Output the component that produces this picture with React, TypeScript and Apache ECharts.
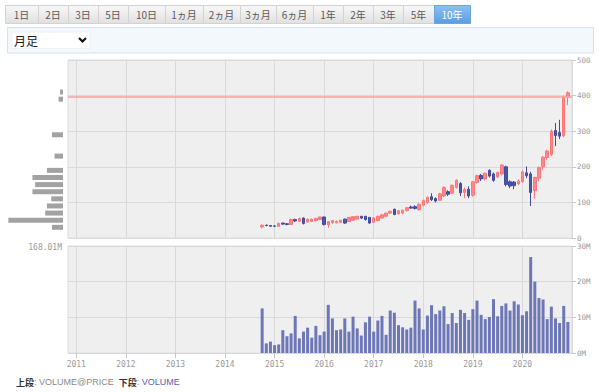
import React, { useEffect, useRef } from 'react';
import * as echarts from 'echarts';

// ---------- data ----------
const rangeButtons = ['1日', '2日', '3日', '5日', '10日', '1ヵ月', '2ヵ月', '3ヵ月', '6ヵ月', '1年', '2年', '3年', '5年', '10年'];
const activeButton = '10年';
const periodLabel = '月足';

const axisStart = [2010, 11];
const axisEnd = [2021, 1];
const dataStart = [2014, 10];
const lastLabelYear = 2020;

const openPrices = [
  31, 36, 35, 34, 33, 42, 40, 38, 52, 47, 56, 45, 47, 49, 52,
  59, 37, 43, 43, 44, 53, 46, 50, 53, 61, 61, 58,
  44, 49, 56, 61, 70, 81, 68, 70, 77, 87, 88, 80,
  92, 100, 116, 111, 106, 118, 130, 126, 142, 153, 128, 137,
  120, 156, 176, 166, 190, 180, 172, 180, 200, 158, 157, 152,
  158, 183, 180, 133, 168, 200, 226, 235, 302, 296, 287, 396,
];
const closePrices = [
  36, 35, 33, 33, 41, 39, 38, 52, 48, 55, 41, 53, 53, 55, 59,
  38, 46, 49, 47, 50, 42, 58, 60, 61, 56, 52, 42,
  56, 61, 65, 70, 75, 66, 77, 78, 85, 84, 83, 95,
  105, 114, 108, 104, 124, 142, 123, 148, 162, 127, 136, 118,
  158, 175, 166, 182, 174, 162, 184, 205, 150, 146, 147, 160,
  186, 175, 128, 170, 198, 227, 244, 300, 288, 286, 397, 408,
];
const lowPrices = [
  27, 33, 31, 31, 32, 37, 36, 37, 45, 45, 38, 43, 45, 47, 50,
  35, 29, 40, 41, 43, 40, 45, 49, 52, 53, 49, 40,
  43, 48, 55, 59, 68, 64, 66, 67, 74, 82, 80, 77,
  89, 96, 104, 100, 104, 115, 118, 124, 139, 118, 112, 112,
  116, 153, 160, 162, 170, 158, 168, 176, 145, 140, 137, 148,
  155, 168, 90, 110, 160, 192, 220, 230, 258, 278, 283, 373,
];
const highPrices = [
  38, 38, 36, 35, 43, 43, 42, 54, 54, 57, 58, 55, 55, 57, 60,
  60, 47, 50, 49, 51, 55, 59, 61, 62, 62, 62, 59,
  58, 62, 66, 71, 77, 82, 78, 80, 87, 91, 92, 97,
  108, 117, 126, 114, 127, 145, 134, 150, 165, 157, 142, 145,
  160, 178, 180, 184, 193, 184, 186, 208, 203, 162, 160, 165,
  190, 201, 186, 172, 201, 230, 248, 305, 323, 332, 400, 412,
];
const volumesM = [
  12.5, 2.7, 3.2, 2.2, 2.4, 6.4, 4.7, 5.5, 10.4, 4.1, 6.0, 7.1, 4.3, 7.6, 5.0,
  6.0, 13.5, 9.7, 6.4, 6.6, 9.7, 6.0, 10.2, 6.9, 4.9, 8.6, 10.2,
  6.0, 9.1, 10.4, 5.1, 11.9, 11.3, 7.8, 7.2, 6.6, 7.1, 14.7, 12.5,
  6.6, 10.5, 13.4, 10.9, 11.9, 13.1, 8.1, 11.2, 8.4, 12.1, 11.2, 9.3,
  12.3, 14.7, 10.7, 9.5, 10.1, 15.1, 10.3, 13.2, 13.9, 11.9, 14.5, 13.6,
  10.6, 11.7, 26.9, 20.0, 15.4, 15.0, 9.5, 13.0, 9.7, 8.4, 13.2, 8.7,
];
// volume at price, bins of 20 from 0 to 500
const profileBinSize = 20;
const profileVolumesM = [0, 34, 168.01, 54.7, 49.4, 36.1, 93.9, 85.5, 93.9, 49.4, 0, 26, 0, 0, 34, 0, 0, 0, 0, 13.6, 9.3, 0, 0, 0, 0];
const profileMaxLabel = '168.01M';
const lastPriceLine = 396;
const priceAxis = { min: 0, max: 500, step: 100 };
const volumeAxis = { min: 0, max: 30, step: 10 };
const footerTop = '上段';
const footerTopValue = 'VOLUME@PRICE';
const footerBottom = '下段';
const footerBottomValue = 'VOLUME';

// ---------- helpers ----------
const monthLabel = (y: number, m: number) => `${y}-${String(m).padStart(2, '0')}`;
const categories: string[] = [];
{
  let y = axisStart[0], m = axisStart[1];
  while (y < axisEnd[0] || (y === axisEnd[0] && m <= axisEnd[1])) {
    categories.push(monthLabel(y, m));
    m++; if (m > 12) { m = 1; y++; }
  }
}
const dataMonths: string[] = [];
{
  let y = dataStart[0], m = dataStart[1];
  for (let k = 0; k < openPrices.length; k++) {
    dataMonths.push(monthLabel(y, m));
    m++; if (m > 12) { m = 1; y++; }
  }
}
const isJan = (_i: number, v: string) => String(v).endsWith('-01');
const isLabelJan = (i: number, v: string) => isJan(i, v) && Number(String(v).slice(0, 4)) <= lastLabelYear;
const profileBins = profileVolumesM.map((_, k) => `${k * profileBinSize}-${(k + 1) * profileBinSize}`);

const buttonEdges = [5, 38, 68, 98, 128, 165, 203, 240, 276, 313, 343, 373, 403, 434, 470];
const CJK = '"Noto Sans CJK JP", "Noto Sans", sans-serif';
const MONO = '"DejaVu Sans Mono", monospace';
const SANS = '"Liberation Sans", Arial, sans-serif';
const gridColor = '#d9d9d9';
const labelColor = '#9a9a9a';

export default function App() {
  const ref = useRef<HTMLDivElement>(null);
  useEffect(() => {
    if (!ref.current) return;
    const chart = echarts.init(ref.current, undefined, { renderer: 'svg' });

    const graphics: any[] = [];
    rangeButtons.forEach((b, i) => {
      const x0 = buttonEdges[i], x1 = buttonEdges[i + 1];
      const active = b === activeButton;
      graphics.push({
        type: 'rect', shape: { x: x0 + 0.5, y: 5.5, width: x1 - x0, height: 18 },
        style: {
          fill: new echarts.graphic.LinearGradient(0, 0, 0, 1, active
            ? [{ offset: 0, color: '#8cc0f0' }, { offset: 1, color: '#5b9de0' }]
            : [{ offset: 0, color: '#f8f8f8' }, { offset: 1, color: '#e0e0e0' }]),
          stroke: active ? '#6aa6e2' : '#d2d2d2', lineWidth: 1,
        },
      });
      graphics.push({
        type: 'text', x: (x0 + x1) / 2, y: 14.5,
        style: { text: b, align: 'center', verticalAlign: 'middle', fontSize: 10, fontFamily: CJK, fill: active ? '#ffffff' : '#5a5a5a' },
      });
    });
    graphics.push({
      type: 'rect', shape: { x: 7.5, y: 27.5, width: 586, height: 25.5 },
      style: { fill: '#f3f8fd', stroke: '#d3e3f1', lineWidth: 1 },
    });
    graphics.push({
      type: 'rect', shape: { x: 12, y: 32, width: 78, height: 16.5 },
      style: { fill: '#ffffff', stroke: '#f0f0f0', lineWidth: 1 },
    });
    graphics.push({
      type: 'text', x: 14, y: 40.5,
      style: { text: periodLabel, verticalAlign: 'middle', fontSize: 12, fontFamily: CJK, fill: '#1a1a1a' },
    });
    graphics.push({
      type: 'polyline', shape: { points: [[79, 38], [82.5, 41.5], [86, 38]] },
      style: { stroke: '#111', lineWidth: 2.2, fill: 'none' },
    });
    graphics.push({
      type: 'text', x: 62, y: 247.5,
      style: { text: profileMaxLabel, align: 'right', verticalAlign: 'middle', fontSize: 8, fontFamily: MONO, fill: labelColor },
    });
    graphics.push({
      type: 'text', x: 16, y: 382,
      style: {
        text: `{a|${footerTop}}{p|: }{b|${footerTopValue}}{p|  }{a|${footerBottom}}{p|: }{c|${footerBottomValue}}`,
        verticalAlign: 'middle',
        rich: {
          a: { fontSize: 9, fontFamily: CJK, fill: '#333', fontWeight: 'bold' },
          p: { fontSize: 9, fontFamily: SANS, fill: '#888' },
          b: { fontSize: 9, fontFamily: SANS, fill: '#8a8a8a' },
          c: { fontSize: 9, fontFamily: SANS, fill: '#5962ab' },
        },
      },
    });

    const xCommon = {
      type: 'category', data: categories, boundaryGap: false,
      axisLine: { show: false }, axisTick: { show: false }, axisLabel: { show: false },
      splitLine: { show: true, interval: isJan, lineStyle: { color: gridColor, width: 1 } },
    };
    const yCommon = {
      type: 'value', position: 'right',
      axisLine: { show: false },
      axisTick: { show: true, length: 4, lineStyle: { color: '#c8c8c8' } },
      axisLabel: { color: labelColor, fontSize: 7.5, fontFamily: MONO, margin: 5 },
      splitLine: { show: true, lineStyle: { color: gridColor, width: 1 } },
    };

    chart.setOption({
      animation: false,
      backgroundColor: '#ffffff',
      grid: [
        { left: 68, right: 28, top: 60, height: 178, show: true, backgroundColor: '#efefef', borderColor: '#dddddd', borderWidth: 1 },
        { left: 68, right: 28, top: 246, height: 107, show: true, backgroundColor: '#efefef', borderColor: '#dddddd', borderWidth: 1 },
        { left: 8, width: 55, top: 60, height: 178, show: false },
      ],
      xAxis: [
        { ...xCommon, gridIndex: 0 },
        {
          ...xCommon, gridIndex: 1,
          axisTick: { show: true, interval: isLabelJan, length: 5, lineStyle: { color: '#c8c8c8' } },
          axisLabel: {
            show: true, interval: isLabelJan, formatter: (v: string) => v.slice(0, 4),
            color: labelColor, fontSize: 8, fontFamily: MONO, margin: 7,
          },
        },
        { gridIndex: 2, type: 'value', inverse: true, min: 0, max: 169, show: false },
      ],
      yAxis: [
        { ...yCommon, gridIndex: 0, min: priceAxis.min, max: priceAxis.max, interval: priceAxis.step },
        {
          ...yCommon, gridIndex: 1, min: volumeAxis.min, max: volumeAxis.max, interval: volumeAxis.step,
          axisLabel: { ...yCommon.axisLabel, formatter: '{value}M' },
        },
        { gridIndex: 2, type: 'category', data: profileBins, show: false, boundaryGap: true },
      ],
      graphic: graphics,
      series: [
        {
          type: 'bar', xAxisIndex: 2, yAxisIndex: 2, barWidth: 5,
          data: profileVolumesM.map((v) => (v > 0 ? v : '-')),
          itemStyle: { color: '#a2a2a2' },
        },
        {
          type: 'candlestick', xAxisIndex: 0, yAxisIndex: 0, barWidth: 3,
          encode: { x: 0, y: [1, 2, 3, 4] },
          data: dataMonths.map((m, k) => [m, openPrices[k], closePrices[k], lowPrices[k], highPrices[k]]),
          itemStyle: {
            color: '#ff8787', color0: '#4a56a8',
            borderColor: '#ff7676', borderColor0: '#404ca0', borderWidth: 1,
          },
          markLine: {
            symbol: 'none', silent: true, label: { show: false },
            lineStyle: { color: '#f3a2a2', width: 1.5, type: 'solid' },
            data: [{ yAxis: lastPriceLine }],
          },
        },
        {
          type: 'bar', xAxisIndex: 1, yAxisIndex: 1, barWidth: 3,
          data: dataMonths.map((m, k) => [m, volumesM[k]]),
          itemStyle: { color: '#6e77b6' },
        },
      ],
    });
    return () => chart.dispose();
  }, []);
  return (
    <div style={{ position: 'fixed', left: 0, top: 0, width: 600, height: 392, background: '#fff' }}>
      <div ref={ref} style={{ width: 600, height: 392 }} />
    </div>
  );
}
